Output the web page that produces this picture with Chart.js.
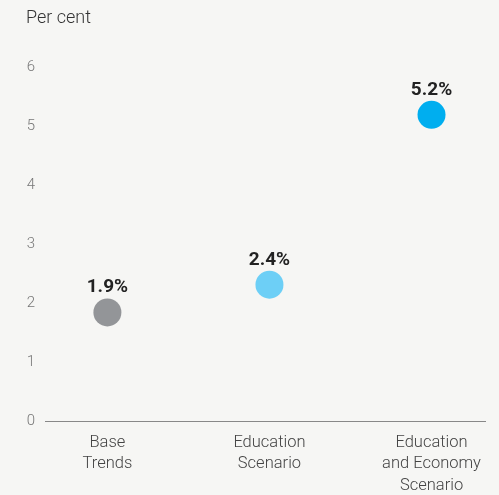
<!DOCTYPE html>
<html><head><meta charset="utf-8">
<script src="https://cdn.jsdelivr.net/npm/chart.js@4"></script>
<style>html,body{margin:0;padding:0;background:#f6f6f4;}#w{width:499px;height:495px;}</style>
</head><body><div id="w"><canvas id="c"></canvas></div>
<script>
const categories = [["Base","Trends"],["Education","Scenario"],["Education","and Economy","Scenario"]];
const values = [1.84, 2.31, 5.19];
const valueLabels = ["1.9%", "2.4%", "5.2%"];
const pointColors = ["#939598", "#6dcff6", "#00aeef"];
const yTicks = [0,1,2,3,4,5,6];
const unitLabel = "Per cent";

const FONT = "Roboto, 'Liberation Sans', sans-serif";

const labelPlugin = {
  id: 'lbl',
  afterDatasetsDraw(chart) {
    const ctx = chart.ctx;
    const meta = chart.getDatasetMeta(0);
    ctx.save();
    ctx.font = "bold 19px " + FONT;
    ctx.fillStyle = "#222";
    ctx.textAlign = "center";
    ctx.textBaseline = "alphabetic";
    meta.data.forEach((p, i) => {
      ctx.fillText(valueLabels[i], p.x, p.y - 20);
    });
    ctx.font = "300 18px " + FONT;
    ctx.fillStyle = "#333";
    ctx.textAlign = "left";
    ctx.textBaseline = "middle";
    ctx.fillText(unitLabel, 26, 18);
    ctx.restore();
  }
};

new Chart(document.getElementById('c'), {
  type: 'scatter',
  data: {
    datasets: [{
      data: values.map((v, i) => ({x: i, y: v})),
      backgroundColor: pointColors,
      borderWidth: 0,
      pointRadius: 14,
      pointHoverRadius: 14
    }]
  },
  options: {
    responsive: true,
    maintainAspectRatio: false,
    animation: false,
    layout: {padding: {top: 67, right: 14, left: 0, bottom: 0}},
    plugins: {legend: {display: false}, tooltip: {enabled: false}},
    scales: {
      x: {
        type: 'linear', min: -0.385, max: 2.33,
        afterBuildTicks(s) { s.ticks = categories.map((c, i) => ({value: i})); },
        afterFit(s) { s.height = 74; },
        ticks: {
          callback: (v) => categories[v],
          color: "#444",
          font: {family: FONT, size: 16.5, weight: 300, lineHeight: 1.3},
          padding: 11,
          maxRotation: 0, autoSkip: false
        },
        grid: {display: false, drawTicks: false},
        border: {display: true, color: "#888", dash: [1, 2], width: 1}
      },
      y: {
        min: 0, max: 6,
        afterBuildTicks(s) { s.ticks = yTicks.map(v => ({value: v})); },
        afterFit(s) { s.width = 45; },
        ticks: {color: "#777", font: {family: FONT, size: 15, weight: 300}, padding: 10},
        grid: {display: false, drawTicks: false},
        border: {display: false}
      }
    }
  },
  plugins: [labelPlugin]
});
</script></body></html>
